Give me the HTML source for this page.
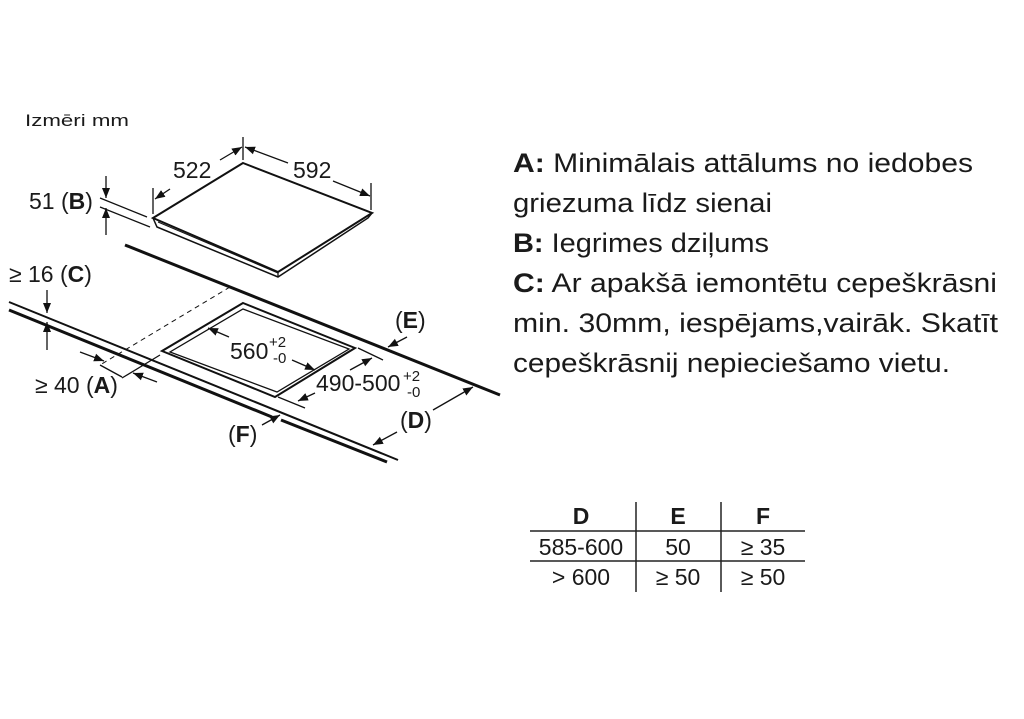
<!DOCTYPE html>
<html><head><meta charset="utf-8"><style>
html,body{margin:0;padding:0;background:#fff;}
svg{display:block;}
text{font-family:"Liberation Sans",Arial,sans-serif;fill:#1a1a1a;}
</style></head><body>
<svg width="1024" height="719" viewBox="0 0 1024 719" xmlns="http://www.w3.org/2000/svg">
<defs>
<marker id="ar" viewBox="0 0 10 10" refX="10" refY="5" markerWidth="10" markerHeight="10" markerUnits="userSpaceOnUse" orient="auto">
<path d="M0,1 L10,5 L0,9 z" fill="#111"/></marker>
</defs>
<rect width="1024" height="719" fill="#fff"/>
<text x="25" y="126" font-size="17" textLength="104" lengthAdjust="spacingAndGlyphs">Izmēri mm</text>

<g stroke="#111" fill="none" stroke-width="1.3">
<polygon points="243,163 372,213 278,272 153,218" fill="#fff" stroke-width="2"/>
<polyline points="153,218 157,227 278,277 368,218 372,213" stroke-width="1.5"/>
<line x1="158" y1="222" x2="278" y2="273" stroke-width="1"/>
<line x1="278" y1="272" x2="278" y2="277"/>
<line x1="153" y1="188" x2="153" y2="214"/>
<line x1="243" y1="137" x2="243" y2="160"/>
<line x1="371" y1="183" x2="371" y2="210"/>
<line x1="100" y1="198" x2="147" y2="217"/>
<line x1="100" y1="207" x2="150" y2="227"/>
<line x1="170" y1="189" x2="155" y2="199" marker-end="url(#ar)"/>
<line x1="220" y1="160" x2="242" y2="147" marker-end="url(#ar)"/>
<line x1="288" y1="163" x2="245" y2="147" marker-end="url(#ar)"/>
<line x1="333" y1="181" x2="370" y2="196" marker-end="url(#ar)"/>
<line x1="106" y1="176" x2="106" y2="198" marker-end="url(#ar)"/>
<line x1="106" y1="235" x2="106" y2="208" marker-end="url(#ar)"/>
<line x1="125" y1="245" x2="500" y2="395" stroke-width="3"/>
<line x1="9" y1="302" x2="398" y2="460" stroke-width="2"/>
<line x1="9" y1="310" x2="272" y2="417" stroke-width="3"/>
<line x1="281" y1="420" x2="387" y2="462" stroke-width="3"/>
<line x1="47" y1="290" x2="47" y2="313" marker-end="url(#ar)"/>
<line x1="47" y1="350" x2="47" y2="322" marker-end="url(#ar)"/>
<line x1="230" y1="287" x2="100" y2="365" stroke-dasharray="5,4" stroke-width="1"/>
<line x1="100" y1="365" x2="122" y2="377"/>
<line x1="80" y1="352" x2="104" y2="361" marker-end="url(#ar)"/>
<line x1="157" y1="382" x2="133" y2="373" marker-end="url(#ar)"/>
<line x1="122" y1="378" x2="160" y2="355"/>
<polygon points="243,303 355,348 275,397 162,351" stroke-width="2"/>
<polygon points="243,309 349,349 277,392 170,352" stroke-width="1.3"/>
<line x1="229" y1="337" x2="208" y2="328" marker-end="url(#ar)"/>
<line x1="292" y1="360" x2="315" y2="370" marker-end="url(#ar)"/>
<line x1="358" y1="348" x2="383" y2="360"/>
<line x1="278" y1="397" x2="305" y2="408"/>
<line x1="350" y1="370" x2="372" y2="358" marker-end="url(#ar)"/>
<line x1="315" y1="393" x2="298" y2="401" marker-end="url(#ar)"/>
<line x1="407" y1="337" x2="388" y2="347" marker-end="url(#ar)"/>
<line x1="433" y1="410" x2="473" y2="387" marker-end="url(#ar)"/>
<line x1="397" y1="432" x2="373" y2="445" marker-end="url(#ar)"/>
<line x1="262" y1="425" x2="280" y2="415" marker-end="url(#ar)"/>
</g>

<g font-size="23">
<text x="173" y="178">522</text>
<text x="293" y="178">592</text>
<text x="29" y="209">51 (<tspan font-weight="bold">B</tspan>)</text>
<text x="9" y="282">≥ 16 (<tspan font-weight="bold">C</tspan>)</text>
<text x="35" y="393">≥ 40 (<tspan font-weight="bold">A</tspan>)</text>
<text x="230" y="359">560</text>
<text x="269" y="347" font-size="15">+2</text>
<text x="273" y="363" font-size="15">-0</text>
<text x="316" y="391">490-500</text>
<text x="403" y="381" font-size="15">+2</text>
<text x="407" y="397" font-size="15">-0</text>
<text x="395" y="328">(<tspan font-weight="bold">E</tspan>)</text>
<text x="400" y="428">(<tspan font-weight="bold">D</tspan>)</text>
<text x="228" y="442">(<tspan font-weight="bold">F</tspan>)</text>
</g>

<g font-size="27">
<text x="513" y="172" textLength="460" lengthAdjust="spacingAndGlyphs"><tspan font-weight="bold">A:</tspan> Minimālais attālums no iedobes</text>
<text x="513" y="212" textLength="259" lengthAdjust="spacingAndGlyphs">griezuma līdz sienai</text>
<text x="513" y="252" textLength="256" lengthAdjust="spacingAndGlyphs"><tspan font-weight="bold">B:</tspan> Iegrimes dziļums</text>
<text x="513" y="292" textLength="484" lengthAdjust="spacingAndGlyphs"><tspan font-weight="bold">C:</tspan> Ar apakšā iemontētu cepeškrāsni</text>
<text x="513" y="332" textLength="485" lengthAdjust="spacingAndGlyphs">min. 30mm, iespējams,vairāk.  Skatīt</text>
<text x="513" y="372" textLength="437" lengthAdjust="spacingAndGlyphs">cepeškrāsnij nepieciešamo vietu.</text>
</g>

<g stroke="#222" stroke-width="1.5">
<line x1="530" y1="531" x2="805" y2="531"/>
<line x1="530" y1="561" x2="805" y2="561"/>
<line x1="636" y1="502" x2="636" y2="592"/>
<line x1="721" y1="502" x2="721" y2="592"/>
</g>
<g font-size="23" text-anchor="middle">
<text x="581" y="524" font-weight="bold">D</text>
<text x="678" y="524" font-weight="bold">E</text>
<text x="763" y="524" font-weight="bold">F</text>
<text x="581" y="555">585-600</text>
<text x="678" y="555">50</text>
<text x="763" y="555">≥ 35</text>
<text x="581" y="585">&gt; 600</text>
<text x="678" y="585">≥ 50</text>
<text x="763" y="585">≥ 50</text>
</g>
</svg>
</body></html>
